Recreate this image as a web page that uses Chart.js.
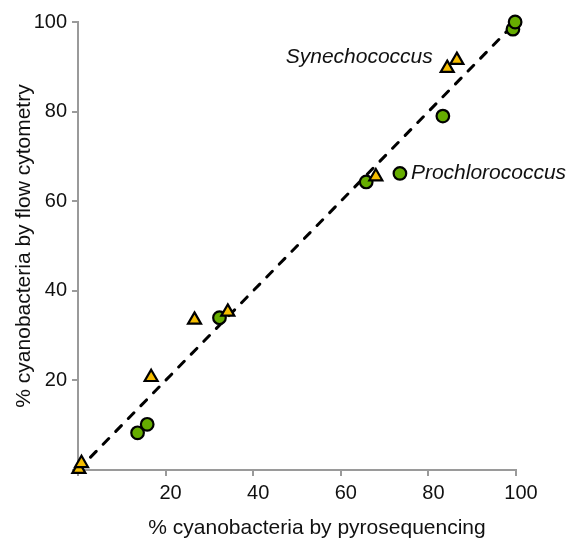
<!DOCTYPE html>
<html>
<head>
<meta charset="utf-8">
<script src="https://cdn.jsdelivr.net/npm/chart.js@4.4.0/dist/chart.umd.min.js"></script>
<style>
  html, body { margin: 0; padding: 0; background: #fff; }
  #wrap { width: 569px; height: 544px; position: relative; }
</style>
</head>
<body>
<div id="wrap"><canvas id="myChart"></canvas></div>
<script>
// ------ data ------
var synPyro = [0.2, 0.8, 16.7, 26.6, 34.2, 68.0, 84.3, 86.5];
var synFlow = [0.2, 1.5, 20.7, 33.5, 35.3, 65.5, 89.7, 91.5];

var proPyro = [13.6, 15.8, 32.3, 65.8, 73.5, 83.3, 99.3, 99.8];
var proFlow = [8.3, 10.2, 34.0, 64.3, 66.2, 79.0, 98.4, 100];

var lineX = [0, 99];
var lineY = [0, 99];

var axisTicks = [20, 40, 60, 80, 100];

var labelNames = ['Synechococcus', 'Prochlorococcus'];
var labelX = [81, 76];
var labelY = [92.2, 66.3];
var labelAlign = ['right', 'left'];

var xTitle = '% cyanobacteria by pyrosequencing';

function toPoints(xs, ys) {
  return xs.map(function (x, i) { return { x: x, y: ys[i] }; });
}

var fontFamily = '"Liberation Sans", Arial, sans-serif';

// italic species names + x axis title (Excel centres it a bit right of the plot)
var extraText = {
  id: 'extraText',
  afterDatasetsDraw: function (chart) {
    var ctx = chart.ctx;
    var xs = chart.scales.x, ys = chart.scales.y;
    ctx.save();
    ctx.fillStyle = '#111';
    ctx.textBaseline = 'middle';
    ctx.font = 'italic 21px ' + fontFamily;
    labelNames.forEach(function (name, i) {
      ctx.textAlign = labelAlign[i];
      ctx.fillText(name, xs.getPixelForValue(labelX[i]), ys.getPixelForValue(labelY[i]));
    });
    ctx.font = '21px ' + fontFamily;
    ctx.textAlign = 'center';
    ctx.fillText(xTitle, (xs.left + xs.right) / 2 + 20, xs.bottom - 16);
    ctx.restore();
  }
};

var tickFont = { family: fontFamily, size: 20 };
var titleFont = { family: fontFamily, size: 21 };

var myChart = new Chart('myChart', {
  type: 'scatter',
  data: {
    datasets: [{
      label: 'Synechococcus',
      data: toPoints(synPyro, synFlow),
      clip: false,
      pointStyle: 'triangle',
      pointRadius: 7.5,
      pointBackgroundColor: '#f5bd00',
      pointBorderColor: '#000',
      pointBorderWidth: 2.2
    }, {
      label: 'Prochlorococcus',
      data: toPoints(proPyro, proFlow),
      clip: false,
      pointStyle: 'circle',
      pointRadius: 6.3,
      pointBackgroundColor: '#66ad00',
      pointBorderColor: '#000',
      pointBorderWidth: 2.2
    }, {
      type: 'line',
      label: '1:1',
      data: toPoints(lineX, lineY),
      borderColor: '#000',
      borderWidth: 3,
      borderDash: [8, 10],
      borderCapStyle: 'round',
      pointRadius: 0,
      fill: false
    }]
  },
  options: {
    responsive: true,
    maintainAspectRatio: false,
    animation: false,
    layout: { padding: { top: 22, right: 53, left: 0, bottom: 0 } },
    plugins: {
      legend: { display: false },
      tooltip: { enabled: false }
    },
    scales: {
      x: {
        type: 'linear',
        min: 0,
        max: 100,
        afterFit: function (s) { s.height = 74; },
        afterBuildTicks: function (s) {
          s.ticks = [0].concat(axisTicks).map(function (v) { return { value: v }; });
        },
        border: { color: '#9a9a9a', width: 2 },
        grid: { drawOnChartArea: false, drawTicks: true, tickLength: 6, color: '#9a9a9a', lineWidth: 2 },
        ticks: {
          color: '#111',
          font: tickFont,
          padding: 5,
          labelOffset: 5,
          maxRotation: 0,
          callback: function (v) { return v === 0 ? '' : v; }
        },
        title: { display: false }
      },
      y: {
        type: 'linear',
        min: 0,
        max: 100,
        afterFit: function (s) { s.width = 78; },
        afterBuildTicks: function (s) {
          s.ticks = [0].concat(axisTicks).map(function (v) { return { value: v }; });
        },
        border: { color: '#9a9a9a', width: 2 },
        grid: { drawOnChartArea: false, drawTicks: true, tickLength: 6, color: '#9a9a9a', lineWidth: 2 },
        ticks: {
          color: '#111',
          font: tickFont,
          padding: 5,
          callback: function (v) { return v === 0 ? '' : v; }
        },
        title: {
          display: true,
          text: '% cyanobacteria by flow cytometry',
          color: '#111',
          font: titleFont,
          padding: { top: 12, bottom: 0 }
        }
      }
    }
  },
  plugins: [extraText]
});
</script>
</body>
</html>
